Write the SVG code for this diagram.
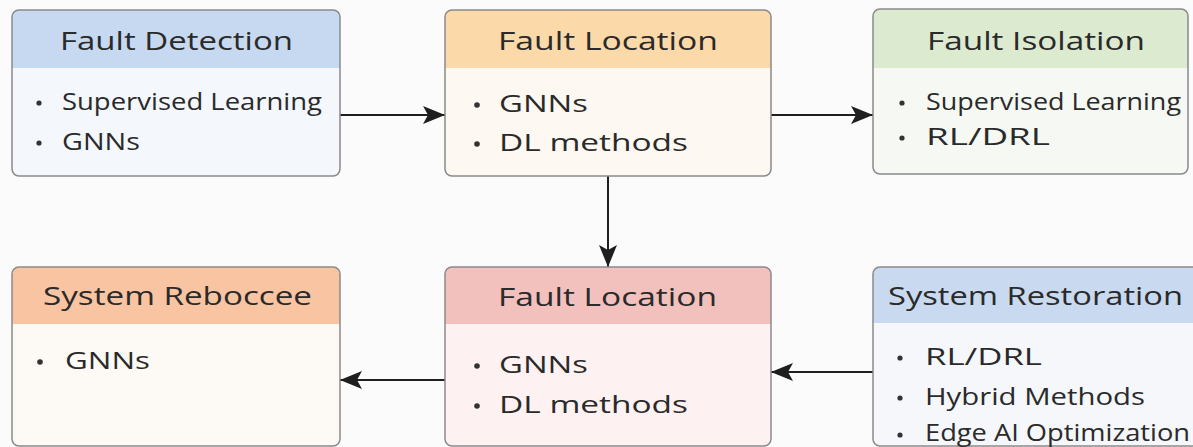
<svg xmlns="http://www.w3.org/2000/svg" width="1193" height="447" viewBox="0 0 1193 447">
<defs>
<marker id="ah" viewBox="0 0 22 18" refX="22" refY="9" markerWidth="22" markerHeight="18" markerUnits="userSpaceOnUse" orient="auto">
<path d="M0,0 L22,9 L0,18 L5,9 Z" fill="#1e1e1e"/>
</marker>
</defs>
<style>
.box{stroke:#8a8a8a;stroke-width:1.5}
.t{font-family:"Open Sans","Noto Sans",sans-serif;font-size:25px;fill:#2a2a2a}
.b{font-family:"Open Sans","Noto Sans",sans-serif;font-size:23px;fill:#2a2a2a}
.d{fill:#333}
.c{stroke:#1e1e1e;stroke-width:2;fill:none}
</style>
<rect width="1193" height="447" fill="#fbfbfc"/>
<g id="connectors">
<line class="c" x1="340" y1="115" x2="445" y2="115" marker-end="url(#ah)"/>
<line class="c" x1="771" y1="115" x2="873" y2="115" marker-end="url(#ah)"/>
<line class="c" x1="608" y1="176" x2="608" y2="267" marker-end="url(#ah)"/>
<line class="c" x1="445" y1="380" x2="340" y2="380" marker-end="url(#ah)"/>
<line class="c" x1="873" y1="372" x2="771" y2="372" marker-end="url(#ah)"/>
</g>
<g id="fault-detection">
<clipPath id="c1"><rect x="12" y="10" width="328" height="166" rx="7"/></clipPath>
<g clip-path="url(#c1)"><rect x="12" y="10" width="328" height="166" fill="#f4f7fc"/><rect x="12" y="10" width="328" height="58" fill="#c6d9f0"/></g>
<rect class="box" x="12" y="10" width="328" height="166" rx="7" fill="none"/>
<text class="t" x="60" y="50" textLength="233" lengthAdjust="spacingAndGlyphs">Fault Detection</text>
<circle class="d" cx="39" cy="103" r="2.6"/>
<text class="b" x="62" y="110" textLength="260" lengthAdjust="spacingAndGlyphs">Supervised Learning</text>
<circle class="d" cx="39" cy="143" r="2.6"/>
<text class="b" x="62" y="150" textLength="78" lengthAdjust="spacingAndGlyphs">GNNs</text>
</g>
<g id="fault-location-top">
<clipPath id="c2"><rect x="445" y="10" width="326" height="166" rx="7"/></clipPath>
<g clip-path="url(#c2)"><rect x="445" y="10" width="326" height="166" fill="#fdf8f1"/><rect x="445" y="10" width="326" height="58" fill="#fcd9a9"/></g>
<rect class="box" x="445" y="10" width="326" height="166" rx="7" fill="none"/>
<text class="t" x="498" y="50" textLength="220" lengthAdjust="spacingAndGlyphs">Fault Location</text>
<circle class="d" cx="477" cy="105" r="2.8"/>
<text class="b" x="499" y="112" textLength="89" lengthAdjust="spacingAndGlyphs">GNNs</text>
<circle class="d" cx="477" cy="144" r="2.8"/>
<text class="b" x="499" y="151" textLength="189" lengthAdjust="spacingAndGlyphs">DL methods</text>
</g>
<g id="fault-isolation">
<clipPath id="c3"><rect x="873" y="9" width="315" height="165" rx="7"/></clipPath>
<g clip-path="url(#c3)"><rect x="873" y="9" width="315" height="165" fill="#f6f9f3"/><rect x="873" y="9" width="315" height="59" fill="#dcead0"/></g>
<rect class="box" x="873" y="9" width="315" height="165" rx="7" fill="none"/>
<text class="t" x="927" y="50" textLength="218" lengthAdjust="spacingAndGlyphs">Fault Isolation</text>
<circle class="d" cx="902" cy="103" r="2.6"/>
<text class="b" x="926" y="110" textLength="255" lengthAdjust="spacingAndGlyphs">Supervised Learning</text>
<circle class="d" cx="902" cy="138" r="2.6"/>
<text class="b" x="926" y="145" textLength="124" lengthAdjust="spacingAndGlyphs">RL/DRL</text>
</g>
<g id="system-reboccee">
<clipPath id="c4"><rect x="12" y="267" width="328" height="179" rx="7"/></clipPath>
<g clip-path="url(#c4)"><rect x="12" y="267" width="328" height="179" fill="#fdf9f5"/><rect x="12" y="267" width="328" height="57" fill="#f9c4a1"/></g>
<rect class="box" x="12" y="267" width="328" height="179" rx="7" fill="none"/>
<text class="t" x="43" y="305" textLength="269" lengthAdjust="spacingAndGlyphs">System Reboccee</text>
<circle class="d" cx="40" cy="362" r="2.8"/>
<text class="b" x="65" y="369" textLength="85" lengthAdjust="spacingAndGlyphs">GNNs</text>
</g>
<g id="fault-location-bottom">
<clipPath id="c5"><rect x="445" y="267" width="326" height="179" rx="7"/></clipPath>
<g clip-path="url(#c5)"><rect x="445" y="267" width="326" height="179" fill="#fdf2f1"/><rect x="445" y="267" width="326" height="57" fill="#f3c1bd"/></g>
<rect class="box" x="445" y="267" width="326" height="179" rx="7" fill="none"/>
<text class="t" x="498" y="306" textLength="219" lengthAdjust="spacingAndGlyphs">Fault Location</text>
<circle class="d" cx="477" cy="366" r="2.8"/>
<text class="b" x="499" y="373" textLength="89" lengthAdjust="spacingAndGlyphs">GNNs</text>
<circle class="d" cx="477" cy="406" r="2.8"/>
<text class="b" x="499" y="413" textLength="189" lengthAdjust="spacingAndGlyphs">DL methods</text>
</g>
<g id="system-restoration">
<clipPath id="c6"><rect x="873" y="267" width="330" height="179" rx="7"/></clipPath>
<g clip-path="url(#c6)"><rect x="873" y="267" width="330" height="179" fill="#f5f7fb"/><rect x="873" y="267" width="330" height="56" fill="#c9daf0"/></g>
<rect class="box" x="873" y="267" width="330" height="179" rx="7" fill="none"/>
<text class="t" x="888" y="305" textLength="295" lengthAdjust="spacingAndGlyphs">System Restoration</text>
<circle class="d" cx="900" cy="358" r="2.6"/>
<text class="b" x="925" y="365" textLength="117" lengthAdjust="spacingAndGlyphs">RL/DRL</text>
<circle class="d" cx="900" cy="398" r="2.6"/>
<text class="b" x="925" y="405" textLength="220" lengthAdjust="spacingAndGlyphs">Hybrid Methods</text>
<circle class="d" cx="900" cy="435" r="2.6"/>
<text class="b" x="925" y="441" textLength="265" lengthAdjust="spacingAndGlyphs">Edge AI Optimization</text>
</g>
</svg>
